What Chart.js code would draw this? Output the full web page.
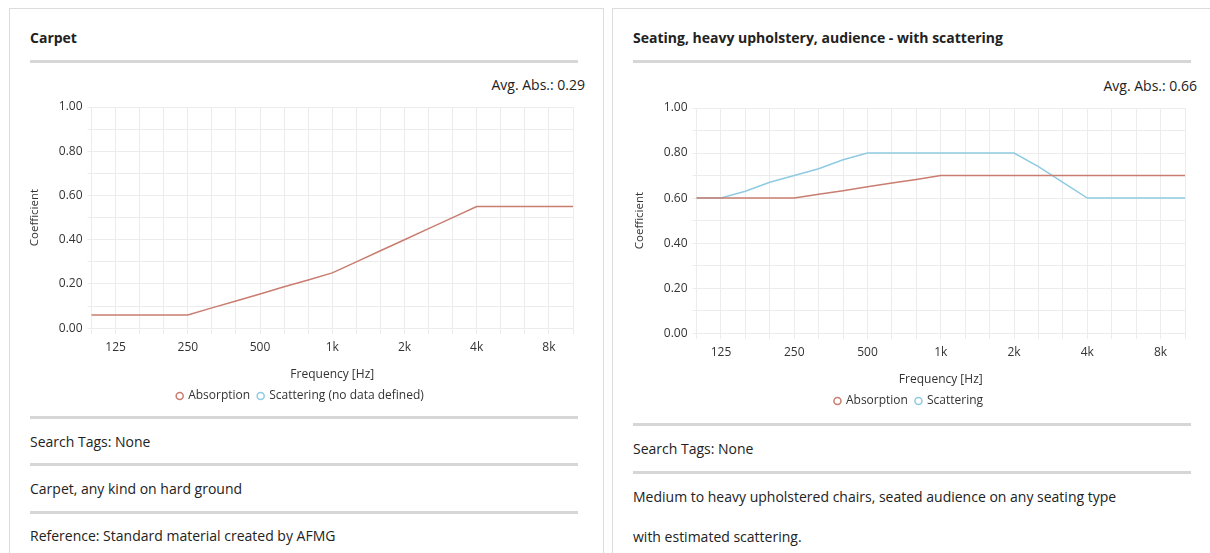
<!DOCTYPE html>
<html>
<head>
<meta charset="utf-8">
<script src="https://cdn.jsdelivr.net/npm/chart.js@4"></script>
<style>
  body { margin: 0; background: #fff; font-family: 'Open Sans', sans-serif; color: #222; }
  .panel { position: absolute; top: 8px; height: 560px; border: 1px solid #dcdcdc; border-bottom: none; }
  .t { position: absolute; height: 20px; line-height: 20px; font-size: 14px; white-space: nowrap; }
  .title { font-weight: bold; font-size: 14px; }
  .avg { text-align: right; width: 200px; }
  .sep { position: absolute; height: 3px; background: #d6d6d6; }
  canvas { position: absolute; }
</style>
</head>
<body>
<div class="panel" style="left:9px; width:593px;"></div>
<div class="panel" style="left:612px; width:620px;"></div>

<div class="t title" style="left:30px; top:28px;">Carpet</div>
<div class="sep" style="left:30px; width:548px; top:60px;"></div>
<div class="t avg" style="left:385px; top:75px;">Avg. Abs.: 0.29</div>
<canvas id="left" width="565" height="340" style="left:20px; top:72px;"></canvas>
<div class="sep" style="left:30px; width:548px; top:416px;"></div>
<div class="t" style="left:30px; top:432px;">Search Tags: None</div>
<div class="sep" style="left:30px; width:548px; top:463px;"></div>
<div class="t" style="left:30px; top:479px;">Carpet, any kind on hard ground</div>
<div class="sep" style="left:30px; width:548px; top:511px;"></div>
<div class="t" style="left:30px; top:526px;">Reference: Standard material created by AFMG</div>

<div class="t title" style="left:633px; top:28px;">Seating, heavy upholstery, audience - with scattering</div>
<div class="sep" style="left:633px; width:558px; top:60px;"></div>
<div class="t avg" style="left:997px; top:76px;">Avg. Abs.: 0.66</div>
<canvas id="right" width="572" height="344" style="left:625px; top:73px;"></canvas>
<div class="sep" style="left:633px; width:558px; top:423px;"></div>
<div class="t" style="left:633px; top:439px;">Search Tags: None</div>
<div class="sep" style="left:633px; width:558px; top:471px;"></div>
<div class="t" style="left:633px; top:487px;">Medium to heavy upholstered chairs, seated audience on any seating type</div>
<div class="t" style="left:633px; top:527px;">with estimated scattering.</div>

<script>
// third-octave bands on the x axis, labels shown only at octaves
const bands = ['100','125','160','200','250','315','400','500','630','800','1k','1.25k','1.6k','2k','2.5k','3.15k','4k','5k','6.3k','8k','10k'];
const octaveTicks = ['125','250','500','1k','2k','4k','8k'];

const carpetAbsorption = [0.06,0.06,0.06,0.06,0.06,0.092,0.123,0.155,0.187,0.218,0.25,0.30,0.35,0.40,0.45,0.50,0.55,0.55,0.55,0.55,0.55];
const carpetScattering = [];

const seatingAbsorption = [0.60,0.60,0.60,0.60,0.60,0.617,0.633,0.65,0.667,0.683,0.70,0.70,0.70,0.70,0.70,0.70,0.70,0.70,0.70,0.70,0.70];
const seatingScattering = [0.60,0.60,0.63,0.67,0.70,0.73,0.77,0.80,0.80,0.80,0.80,0.80,0.80,0.80,0.74,0.67,0.60,0.60,0.60,0.60,0.60];

const absColor = '#c97d70';
const scaColor = '#8ecbe2';
const gridColor = '#ececec';

Chart.defaults.font.family = "'Open Sans', sans-serif";
Chart.defaults.color = '#333';

function makeChart(id, absorption, scattering, scatteringLabel) {
    return new Chart(document.getElementById(id), {
        type: 'line',
        data: {
            labels: bands,
            datasets: [
                {
                    label: 'Absorption',
                    data: absorption,
                    borderColor: absColor,
                    backgroundColor: 'transparent',
                    borderWidth: 1.5,
                    pointRadius: 0,
                    pointStyle: 'circle',
                    tension: 0
                }, {
                    label: scatteringLabel,
                    data: scattering,
                    borderColor: scaColor,
                    backgroundColor: 'transparent',
                    borderWidth: 1.5,
                    pointRadius: 0,
                    pointStyle: 'circle',
                    tension: 0
                }
            ]
        },
        options: {
            responsive: false,
            animation: false,
            layout: { padding: { left: 8, right: 12, top: 35, bottom: 0 } },
            scales: {
                x: {
                    offset: false,
                    border: { display: false },
                    grid: { color: gridColor, tickLength: 6 },
                    ticks: {
                        autoSkip: false,
                        maxRotation: 0,
                        font: { size: 12 },
                        padding: 6,
                        callback: (v, i) => octaveTicks.includes(bands[i]) ? bands[i] : ''
                    },
                    title: { display: true, text: 'Frequency [Hz]', font: { size: 12 }, padding: { top: 7, bottom: 0 } }
                },
                y: {
                    min: 0,
                    max: 1,
                    border: { display: false },
                    grid: { color: gridColor, tickLength: 4 },
                    ticks: {
                        stepSize: 0.1,
                        font: { size: 12 },
                        padding: 5,
                        callback: (v) => Math.round(v * 10) % 2 === 0 ? v.toFixed(2) : ''
                    },
                    title: { display: true, text: 'Coefficient', font: { size: 11.5 }, padding: { top: 0, bottom: 12 } }
                }
            },
            plugins: {
                legend: {
                    position: 'bottom',
                    labels: { usePointStyle: true, boxWidth: 5, boxHeight: 5, font: { size: 12 }, padding: 8 }
                },
                tooltip: { enabled: false }
            }
        }
    });
}

makeChart('left', carpetAbsorption, carpetScattering, 'Scattering (no data defined)');
makeChart('right', seatingAbsorption, seatingScattering, 'Scattering');
</script>
</body>
</html>
